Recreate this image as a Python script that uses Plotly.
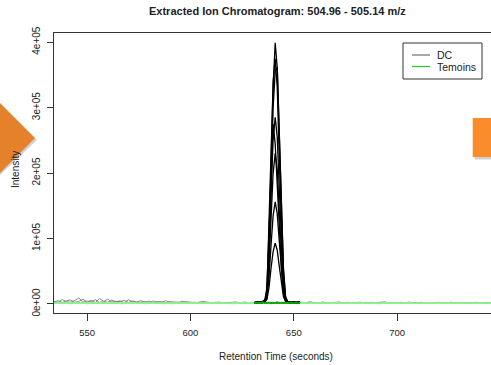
import plotly.graph_objects as go

# ---------------- data ----------------
title_text = "Extracted Ion Chromatogram: 504.96 - 505.14 m/z"
x_title = "Retention Time (seconds)"
y_title = "Intensity"
series_names = ["DC", "Temoins"]
x_ticks = [550, 600, 650, 700]
y_ticks = [0, 100000, 200000, 300000, 400000]
y_ticklabels = ["0e+00", "1e+05", "2e+05", "3e+05", "4e+05"]

# full-range scans (retention time, s)
scan_t = list(range(534, 748, 2))

dc_base_1 = [3000, 5200, 2100, 4800, 6100, 2500, 3900, 7200, 3100, 5600,
             2200, 8300, 4100, 2600, 5900, 3300, 4700, 2000, 6400, 3500,
             2800, 5100, 2300, 4400, 1900, 3600, 2700, 4900, 2100, 3200,
             1800, 4200, 2500, 3000, 1500, 2800, 3900, 2200, 1200, 2600,
             1800, 1400, 2100, 1600, 2400, 1300, 2900, 1700, 1100, 2000,
             3400, 1500, 2300, 1800, 2700, 1400, 3100, 2000, 1600, 2500,
             1300, 2200, 3300, 1700, 1200, 2600, 1900, 1400, 2400, 3000,
             1600, 1100, 2300, 1800, 2800, 1300, 1900, 2500, 1500, 2100,
             3200, 1700, 1200, 2400, 1600, 2000, 2900, 1400, 1800, 2600,
             1100, 1700, 2300, 1500, 2100, 1300, 2700, 1600, 1200, 2200,
             1800, 1400, 2500, 1700, 1100, 2000, 1500]
dc_base_2 = [4100, 2300, 6800, 3400, 2700, 5300, 9200, 2900, 4500, 3100,
             6600, 2400, 3800, 7400, 2900, 4200, 3600, 5500, 2300, 4600,
             3100, 2500, 3900, 1800, 4600, 2600, 3400, 1900, 3800, 2200,
             2900, 1600, 3500, 2100, 2700, 1500, 2300, 3100, 1700, 2000,
             2800, 1500, 2200, 1900, 3000, 1400, 2100, 1800, 2600, 1300,
             1900, 2800, 1600, 2400, 1200, 2200, 1700, 2900, 1500, 2000,
             2700, 1400, 1900, 2300, 1600, 2800, 1300, 2100, 1700, 2400,
             1500, 2600, 1900, 1300, 2200, 1700, 2400, 1200, 2000, 2700,
             1600, 2300, 1400, 1900, 2500, 1300, 2100, 1800, 1500, 2300,
             1900, 1400, 2000, 2600, 1300, 1800, 1600, 2200, 1400, 1900,
             2300, 1500, 1700, 2100, 1300, 1800, 1600]
tem_base_1 = [1500, 2200, 900, 1800, 2600, 1200, 2000, 1400, 2400, 1000,
              1900, 1300, 2500, 1100, 1700, 2200, 900, 1600, 2100, 1300,
              1800, 1000, 2300, 1400, 1200, 2000, 1500, 900, 1900, 1300,
              2200, 1100, 1600, 1400, 2000, 1000, 1700, 1300, 2100, 1200,
              1500, 1900, 1100, 1700, 2300, 1000, 1400, 1800, 1200, 2000,
              1600, 1100, 1900, 1300, 1700, 2200, 1000, 1500, 1800, 1200,
              2100, 1400, 1000, 1700, 1300, 1900, 1100, 1600, 2200, 1200,
              1500, 1800, 1000, 1400, 2000, 1300, 1700, 1100, 1900, 1500,
              1200, 1800, 1400, 2100, 1000, 1600, 1300, 1900, 1100, 1700,
              2000, 1200, 1500, 1800, 1000, 1400, 2100, 1300, 1600, 1100,
              1900, 1400, 1200, 1700, 1000, 1500, 1300]
tem_base_2 = [800, 1600, 1200, 2000, 700, 1500, 1100, 1900, 900, 1400,
              1700, 1000, 1300, 800, 1800, 1200, 1500, 700, 1400, 1900,
              1100, 1600, 800, 1300, 1700, 1000, 1400, 1800, 900, 1200,
              1500, 800, 1700, 1100, 1300, 900, 1600, 1200, 1000, 1800,
              1300, 900, 1500, 1200, 800, 1700, 1100, 1400, 1000, 1600,
              1200, 1800, 900, 1300, 1500, 1000, 1700, 1100, 1400, 800,
              1600, 1200, 1400, 900, 1800, 1100, 1300, 1500, 1000, 1700,
              1100, 1400, 1300, 900, 1600, 1200, 1000, 1500, 1300, 800,
              1700, 1100, 1400, 1000, 1500, 1200, 1600, 900, 1300, 1100,
              1400, 1000, 1700, 1200, 1300, 900, 1500, 1100, 1800, 1200,
              1000, 1400, 1300, 1600, 900, 1200, 1100]

# integrated peak area scans
peak_t = list(range(631, 654))
dc_peak_1 = [2000, 3000, 1500, 2500, 2000, 4000, 20000, 110000, 230000, 330000, 399000, 360000, 250000, 140000, 50000, 10000, 4000, 2500, 3000, 1500, 2500, 3000, 2000]
dc_peak_2 = [3000, 1500, 2500, 2000, 3500, 5000, 15000, 95000, 215000, 340000, 375000, 330000, 220000, 120000, 40000, 8000, 3000, 2000, 2500, 3500, 1500, 2000, 2500]
dc_peak_3 = [1500, 2500, 2000, 3000, 2500, 3500, 10000, 70000, 180000, 300000, 355000, 362000, 260000, 150000, 55000, 12000, 3500, 3000, 2000, 2500, 3000, 1500, 2000]
dc_peak_4 = [2500, 2000, 3000, 1500, 2000, 4500, 14000, 75000, 170000, 250000, 285000, 255000, 175000, 95000, 32000, 7000, 3000, 2500, 1500, 2000, 2500, 2000, 1500]
dc_peak_5 = [2000, 2500, 1500, 3000, 3500, 6000, 25000, 105000, 200000, 275000, 245000, 180000, 110000, 55000, 18000, 5000, 2500, 3000, 2000, 1500, 2000, 2500, 3000]
dc_peak_6 = [1500, 3000, 2500, 2000, 2500, 4000, 12000, 60000, 135000, 200000, 230000, 205000, 140000, 75000, 25000, 6000, 2000, 1500, 2500, 3000, 2000, 1500, 2500]
dc_peak_7 = [2500, 1500, 2000, 2500, 3000, 3500, 9000, 40000, 90000, 135000, 156000, 138000, 95000, 52000, 18000, 5000, 3000, 2000, 1500, 2500, 2000, 3000, 1500]
dc_peak_8 = [2000, 2500, 3000, 1500, 2000, 3000, 7000, 25000, 55000, 80000, 93000, 82000, 57000, 30000, 11000, 4000, 2000, 2500, 3000, 2000, 1500, 2000, 2500]
tem_peak_1 = [1500, 2500, 1000, 2000, 3000, 1200, 1800, 2600, 900, 2200, 1500, 2800, 1100, 1900, 2400, 1300, 2100, 1600, 2700, 1000, 2000, 1400, 2300]
tem_peak_2 = [800, 1700, 2200, 1100, 1500, 2000, 900, 1600, 2300, 1200, 1800, 1000, 2100, 1400, 900, 1900, 1300, 2500, 1100, 1600, 2000, 1200, 1700]

# ---------------- layout constants ----------------
W, H = 491, 365
ML, MR, MT, MB = 54, 0, 33, 52
PW, PH = W - ML - MR, H - MT - MB


def px(x):
    return (x - ML) / PW


def py(y):
    return (H - MB - y) / PH


FONT = "Liberation Sans, Arial, sans-serif"
DC_LIGHT = "#7a7a7a"
DC_DARK = "#000000"
TEM_LIGHT = "#8ef08e"
TEM_DARK = "#0aa80a"

fig = go.Figure()

for ys in (dc_base_1, dc_base_2):
    fig.add_trace(go.Scatter(x=scan_t, y=ys, mode="lines",
                             line=dict(color=DC_LIGHT, width=0.9),
                             showlegend=False, hoverinfo="skip"))
for ys in (tem_base_1, tem_base_2):
    fig.add_trace(go.Scatter(x=scan_t, y=ys, mode="lines",
                             line=dict(color=TEM_LIGHT, width=1.6),
                             showlegend=False, hoverinfo="skip"))
for ys in (dc_peak_1, dc_peak_2, dc_peak_3, dc_peak_4,
           dc_peak_5, dc_peak_6, dc_peak_7, dc_peak_8):
    fig.add_trace(go.Scatter(x=peak_t, y=ys, mode="lines",
                             line=dict(color=DC_DARK, width=1.3),
                             showlegend=False, hoverinfo="skip"))
for ys in (tem_peak_1, tem_peak_2):
    fig.add_trace(go.Scatter(x=peak_t, y=ys, mode="lines",
                             line=dict(color=TEM_DARK, width=1.4),
                             showlegend=False, hoverinfo="skip"))

shapes = []
annotations = []

# manual legend (R style)
shapes.append(dict(type="rect", xref="paper", yref="paper",
                   x0=px(403), x1=px(482), y0=py(79), y1=py(43),
                   line=dict(color="#333333", width=1), fillcolor="white",
                   layer="above"))
leg_colors = ["#6f6f6f", "#22cc22"]
leg_y = [55, 66.5]
for name, col, yy in zip(series_names, leg_colors, leg_y):
    shapes.append(dict(type="line", xref="paper", yref="paper",
                       x0=px(412), x1=px(430), y0=py(yy), y1=py(yy),
                       line=dict(color=col, width=1.2), layer="above"))
    annotations.append(dict(text=name, xref="paper", yref="paper",
                            x=px(435), y=py(yy), xanchor="left", yanchor="middle",
                            showarrow=False, font=dict(family=FONT, size=10.5, color="#222")))

# titles
annotations.append(dict(text="<b>" + title_text + "</b>", xref="paper", yref="paper",
                        x=px(277), y=py(11), xanchor="center", yanchor="middle",
                        showarrow=False, font=dict(family=FONT, size=11, color="#222")))
annotations.append(dict(text=x_title, xref="paper", yref="paper",
                        x=px(276), y=py(357), xanchor="center", yanchor="middle",
                        showarrow=False, font=dict(family=FONT, size=10, color="#222")))
annotations.append(dict(text=y_title, xref="paper", yref="paper",
                        x=px(15), y=py(170), xanchor="center", yanchor="middle",
                        textangle=-90, showarrow=False,
                        font=dict(family=FONT, size=10, color="#222")))

# overlay: orange navigation arrow (left) and tab (right)
shapes.append(dict(type="path", xref="paper", yref="paper",
                   path=f"M {px(0)},{py(105)} L {px(37)},{py(140)} L {px(0)},{py(175)} Z",
                   fillcolor="rgba(120,120,120,0.35)", line=dict(width=0), layer="above"))
shapes.append(dict(type="path", xref="paper", yref="paper",
                   path=f"M {px(0)},{py(103)} L {px(35)},{py(138)} L {px(0)},{py(173)} Z",
                   fillcolor="#e5802b", line=dict(width=0), layer="above"))
shapes.append(dict(type="rect", xref="paper", yref="paper",
                   x0=px(474.5), x1=px(493), y0=py(159.5), y1=py(120),
                   fillcolor="rgba(120,120,120,0.35)", line=dict(width=0), layer="above"))
shapes.append(dict(type="rect", xref="paper", yref="paper",
                   x0=px(472.7), x1=px(491), y0=py(157), y1=py(118),
                   fillcolor="#fb8c2c", line=dict(width=0), layer="above"))

fig.update_layout(
    width=W, height=H,
    margin=dict(l=ML, r=MR, t=MT, b=MB, pad=0),
    paper_bgcolor="white", plot_bgcolor="white",
    showlegend=False,
    shapes=shapes, annotations=annotations,
    font=dict(family=FONT, size=9.5, color="#222"),
)
fig.update_xaxes(range=[534.0, 745.4], tickvals=x_ticks, ticks="outside",
                 ticklen=7, tickcolor="#333", showline=True, linecolor="#333",
                 linewidth=1, mirror=True, showgrid=False, zeroline=False,
                 tickfont=dict(family=FONT, size=9.5, color="#222"),
                 ticklabelstandoff=4)
fig.update_yaxes(range=[-13800, 414000], tickvals=y_ticks, ticktext=y_ticklabels,
                 ticks="outside", ticklen=6, tickcolor="#333", showline=True,
                 linecolor="#333", linewidth=1, mirror=False, showgrid=False,
                 zeroline=False, tickangle=-90,
                 tickfont=dict(family=FONT, size=10, color="#222"),
                 ticklabelstandoff=3)

fig.write_html("out.html", config={"displayModeBar": False, "staticPlot": True})

# remove the browser's default page margin so the figure sits at (0, 0)
with open("out.html", "r", encoding="utf-8") as f:
    html = f.read()
html = html.replace("<head>", "<head><style>html,body{margin:0;padding:0;overflow:hidden;}</style>", 1)
with open("out.html", "w", encoding="utf-8") as f:
    f.write(html)
